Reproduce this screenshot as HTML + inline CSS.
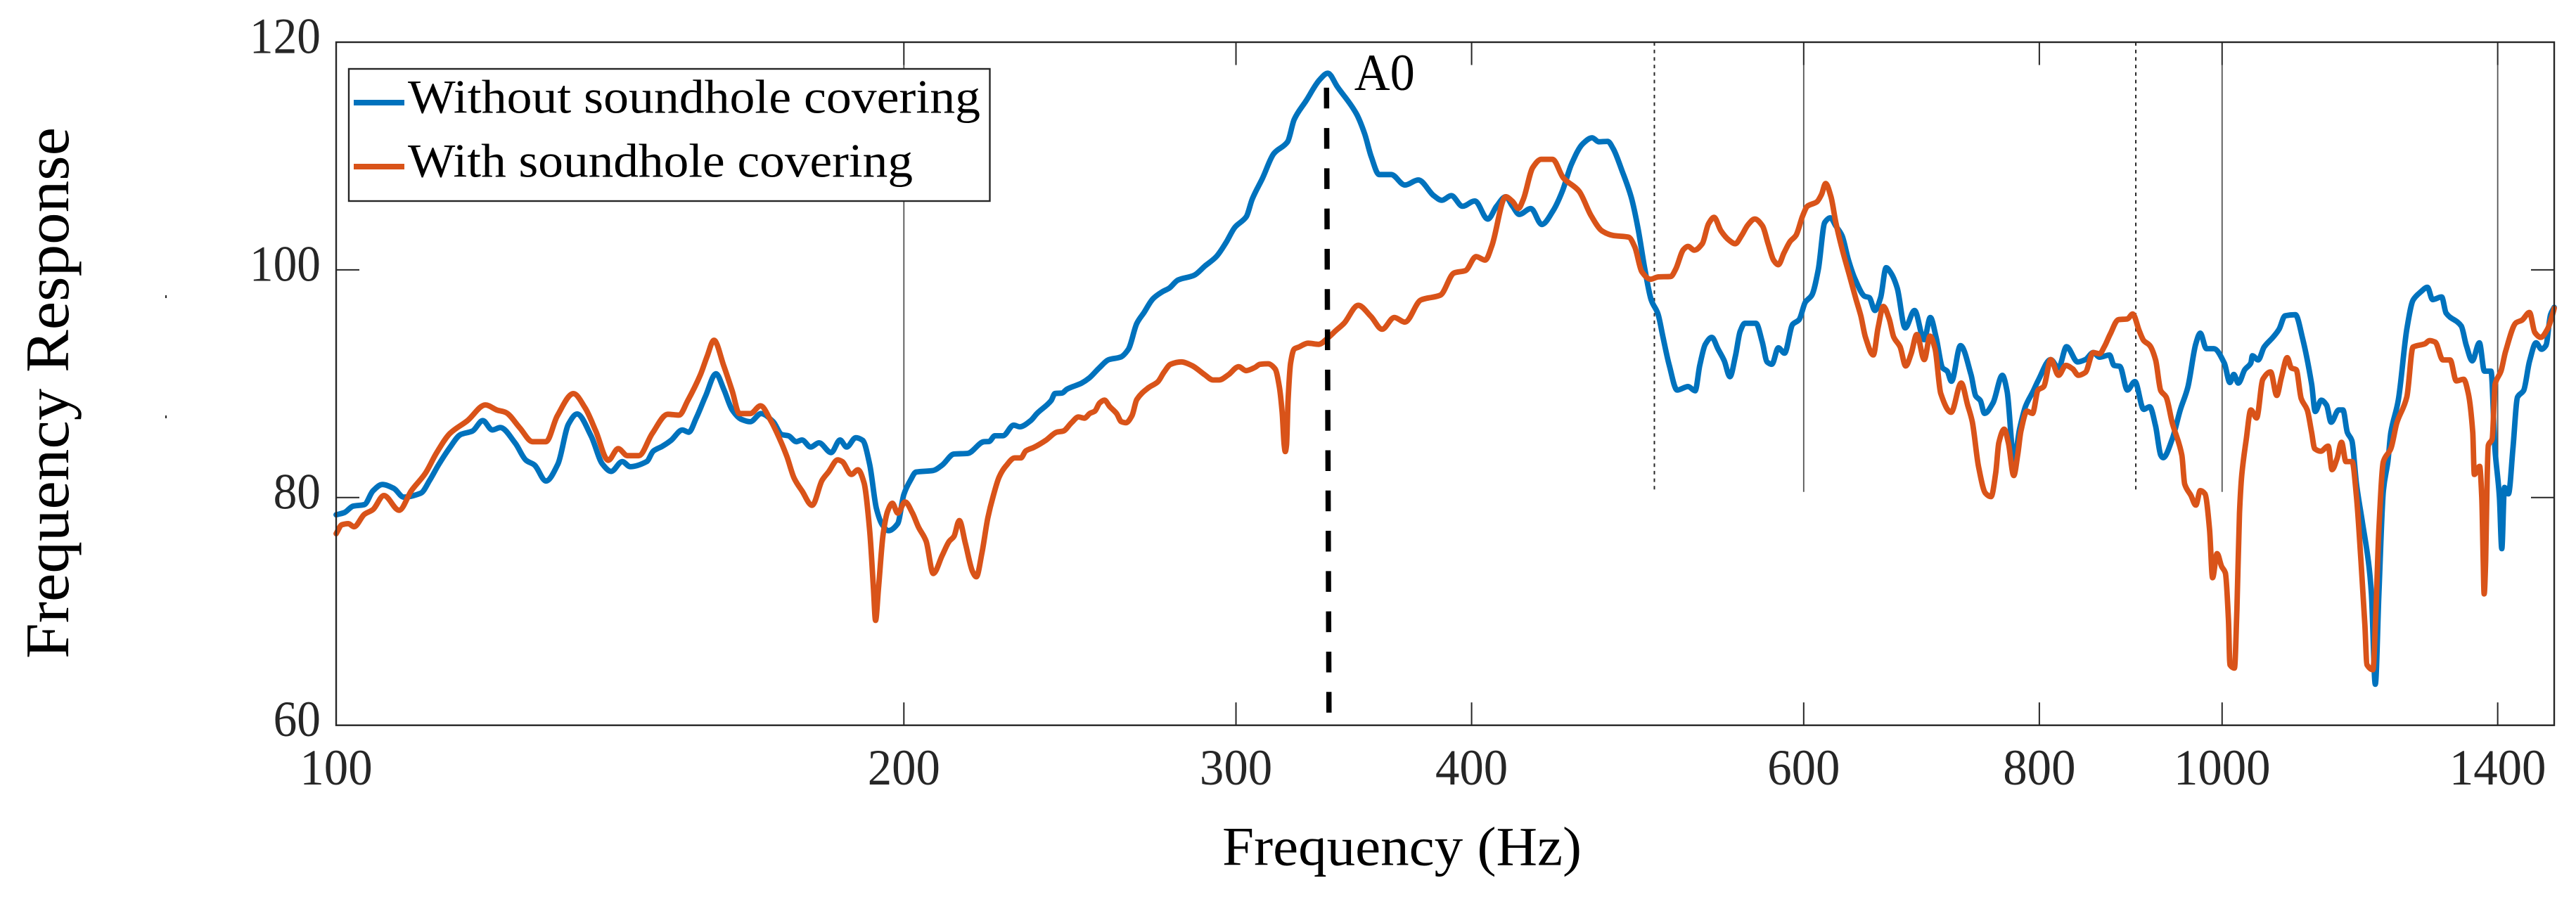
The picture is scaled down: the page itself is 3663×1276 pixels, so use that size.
<!DOCTYPE html>
<html lang="en">
<head>
<meta charset="utf-8">
<title>Frequency Response</title>
<style>
html,body{margin:0;padding:0;background:#fff;}
svg{display:block;}
text{font-family:"Liberation Serif",serif;}
</style>
</head>
<body>
<svg id="chart" xmlns="http://www.w3.org/2000/svg" width="3663" height="1276" viewBox="0 0 3663 1276">
  <rect x="0" y="0" width="3663" height="1276" fill="#ffffff"/>
  <rect x="235" y="420" width="2" height="4" fill="#222"/>
  <rect x="235" y="591" width="2" height="4" fill="#222"/>
  <g id="grid"></g>
  <g id="series"></g>
  <g id="ticks"></g>
  <rect x="478" y="60" width="3154" height="971.7" fill="none" stroke="#262626" stroke-width="2.4"/>
  <g id="annot"></g>
  <g>
    <rect x="496" y="98" width="911.5" height="188" fill="#ffffff" stroke="#262626" stroke-width="2.4"/>
    <line x1="503" y1="146" x2="575" y2="146" stroke="#0072BD" stroke-width="8"/>
    <text x="580" y="160.7" font-size="68" fill="#000" textLength="814" lengthAdjust="spacingAndGlyphs">Without soundhole covering</text>
    <line x1="503" y1="237" x2="575" y2="237" stroke="#D95319" stroke-width="8"/>
    <text x="580" y="251.7" font-size="68" fill="#000" textLength="718" lengthAdjust="spacingAndGlyphs">With soundhole covering</text>
  </g>
  <text x="1738" y="1230.7" font-size="78" fill="#000" textLength="511" lengthAdjust="spacingAndGlyphs">Frequency (Hz)</text>
  <text transform="translate(97,937) rotate(-90)" x="0" y="0" font-size="88" fill="#000" textLength="756" lengthAdjust="spacingAndGlyphs">Frequency Response</text>
</svg>
<script>
const xTickValues = [100, 200, 300, 400, 600, 800, 1000, 1400];
const yTickValues = [60, 80, 100, 120];
const stippleGridFreqs = [200, 600, 1000, 1400];
const dottedGridFreqs = [500, 900];
const a0Freq = 335.5;
const a0Top = 116;
const a0Bottom = 61.05;
const a0Label = "A0";

const freqWithout = [
100,101,102.1,103.5,104.6,105.8,107.3,108.6,110.9,112.1,
113.3,114.9,116.4,118.1,119.6,121,122.2,124.4,126.1,127.4,
129.2,131.1,132.8,134.2,136.5,138.4,139.9,141.8,143.2,146.1,
147.3,148.9,150.5,152.6,153.8,155.2,157,159,160.5,162.2,
164,165.8,168,170.5,172.3,173.7,175.4,176.6,178.5,180.3,
183,185,186.5,188.6,190.2,191.8,193.4,194.8,196.3,198.5,
200,201.6,203,207.3,209.6,212.6,216.2,220.6,221.9,223.5,
225.7,228.7,230.4,233.5,235.3,239.4,240.5,242.6,244,248.5,
250.7,253.9,256.9,260.5,263.1,265.8,268.1,271.1,274.3,276.5,
279.5,285,288.9,292.9,296.4,299.6,303.8,306,309.9,314.2,
319.5,322.1,326.8,332.3,335.6,339.5,347.5,351,353.9,357.3,
362.6,368.7,374.8,381.9,385.7,390.2,395.6,401.6,408,412.4,
417,420.5,424,430,435.8,441.8,446.9,451.9,458,463.4,
467.2,472.3,475.5,480.7,486,490,494,498.1,502.2,505.3,
509.2,514.1,521,525.5,528.5,532.1,536.3,540.4,544.5,548.3,
552,555.2,558.4,566,570.4,573.8,577.1,581.7,586.1,591.9,
596.6,601.2,606,610.8,615.6,619.8,624,628.7,633.7,638.7,
646.4,650,654.5,659.1,663.5,667.4,672.6,679.1,686.9,695,
700.3,705.3,710.8,715,718.6,726.6,736,740.2,744.4,748.2,
756,764.7,769.1,775.6,781,786.6,794,798.8,811.1,819,
827,838.3,846.3,854.5,861,871.6,876.3,882.7,890.8,899,
908.7,915.4,922,927.8,930.5,941,950.2,959,968.4,973.7,
981,990,1002.7,1009.6,1014.4,1020,1028.1,1035.7,1037.6,1045,
1052.6,1064,1072,1079.9,1093.6,1103.4,1115.5,1120.4,1128.7,1136,
1142.4,1153,1159,1165.3,1171.7,1178.3,1187,1195.6,1200,1205.7,
1211,1217.6,1224.3,1228.8,1240,1253,1262.5,1274,1285,1293,
1307.4,1314.6,1339,1347.4,1357.2,1369,1377.5,1388.7,1395.3,1403,
1407,1411.7,1418.5,1426.3,1434.4,1445,1455.4,1467.2,1477,1485,
1493.3,1500
];
const dbWithout = [
78.49,78.68,79.25,79.38,80.59,81.15,80.8,80.04,80.39,81.52,
82.86,84.4,85.53,85.84,86.76,85.94,86.15,84.81,83.27,82.86,
81.46,82.96,86.46,87.34,85.43,82.96,82.3,83.16,82.71,83.16,
84.09,84.5,85.02,85.94,85.74,86.97,88.93,90.88,89.54,87.69,
86.87,86.66,87.38,86.66,85.53,85.43,84.91,85.06,84.44,84.81,
83.95,85.06,84.44,85.26,85.02,82.96,79.05,77.61,77.09,77.71,
80.28,81.52,82.24,82.38,82.86,83.82,83.88,84.91,84.92,85.43,
85.43,86.36,86.22,86.77,87.39,88.52,89.14,89.18,89.51,90.06,
90.48,91.4,92.12,92.33,93.05,95.31,96.24,97.47,98.09,98.39,
99.11,99.52,100.35,101.17,102.41,103.74,104.67,106.21,108.06,110.22,
111.25,113.21,114.85,116.71,117.28,116.09,113.72,111.97,109.92,108.37,
108.37,107.45,107.9,106.52,106.11,106.52,105.59,106.05,104.46,105.59,
106.42,105.59,104.87,105.39,103.99,105.18,106.93,109.3,111.05,111.6,
111.25,111.29,110.64,108.68,106.42,103.74,100.25,97.36,96.13,94.07,
91.61,89.44,89.75,89.38,91.61,93.46,94.07,93.05,92.02,90.62,
92.43,94.59,95.31,95.31,93.66,91.91,91.71,93.15,92.68,95.21,
95.62,97.16,97.78,100.04,104.16,104.57,103.85,103.02,100.86,99.22,
97.68,97.57,96.44,97.57,100.19,99.73,98.4,94.9,96.44,93.87,
95.82,94.07,91.4,91.09,90.21,93.35,90.78,88.93,88.52,87.39,
88.31,90.74,89.34,83.37,86.05,88,89.34,90.27,92.12,91.4,
93.25,91.91,92.12,92.74,92.33,92.52,91.61,91.52,89.45,90.19,
87.75,87.98,86.28,83.73,83.5,85.15,87.7,89.68,93.51,94.44,
93.08,93.08,91.81,90.11,90.82,90.05,91.24,91.81,92.46,92.09,
93.22,94.07,94.78,95.97,96.06,93.93,89.96,87.56,88.55,88.12,
86.62,87.7,87.7,85.71,85,81.18,77.78,74.38,71.54,63.6,
71.54,80.61,83.16,85.71,88.55,94.78,97.33,98.04,98.47,97.39,
97.62,96.2,95.07,93.37,92.01,93.59,91.1,91.1,84.3,80.04,
75.51,80.89,80.33,84.3,88.83,89.4,91.95,93.59,93.03,93.37,
96.06,96.71
];

const freqWith = [
100,100.7,101.5,102.2,103.5,104.6,106,108,109.6,111.5,
113,114.9,117.4,120,121.7,123,125.1,127.1,129.2,131,
133.6,135.5,137.3,139.4,141.1,142.7,144.7,147.1,149.9,152,
153.6,156,157.3,158.6,160.5,162.2,163.6,165.8,167.9,170,
172,173.4,174.9,176.6,178.8,181,182.4,184.5,185.5,187.6,
189.1,190.5,191.8,192.7,193.2,193.9,195,196.1,197.2,198.5,
200.3,202.1,203.6,205.5,207.3,209.6,211.4,212.6,214,215.6,
217.5,218.5,220,221.6,223,224.7,226.5,229,230.7,232.1,
234.4,237.8,241,243,245.4,247.5,249.3,251,252.5,254,
255.5,257.1,259.3,260.8,262.3,264.2,265.8,269.6,272.7,274.7,
277,280.6,284.2,288.8,291.7,293.9,297.2,301,303.7,307.1,
308.9,312,314.7,316.3,317.4,318.2,318.6,319.1,319.7,320.7,
322.1,323.8,327.6,331.9,335.7,339,342.3,348.3,353.7,358.6,
364,368.7,376,385,391.5,397,402.2,406.7,410,417,
420.5,423.5,426.1,431,435.5,441.5,447.5,456,462.8,469,
475.5,484.5,488.2,492.4,497.6,502.4,510.1,513.1,518.1,521,
525,530.1,534.2,537.8,542.3,547.7,551.9,556.2,560.5,565.2,
570.6,574.5,578.3,581.7,585.7,590.2,594.3,599.3,602.8,609.7,
613.2,616.3,620.3,624,628.7,634.7,639.7,643.4,647,653.2,
657,661.3,665.9,669.8,674.9,679.6,684.1,688.8,695.2,700,
704.4,709.3,718.3,727.2,733,737.1,742.7,749,754.2,758.5,
761.4,766.4,770.3,775.4,779.2,782.2,788.1,793.3,798.8,804.3,
811.2,819,826.3,833.3,839,846.2,854.5,861,866.1,872,
881.1,890.8,896.6,903.8,908.7,915.4,922,927.8,934,941,
952,955.4,962.6,968.4,973.7,979.3,984.8,988.4,993.9,999.4,
1004,1007.8,1009.6,1015.2,1018.2,1021.5,1024.4,1030,1035.7,1043,
1051,1061,1069,1075,1082.8,1088.3,1094.7,1101.4,1109.5,1115.5,
1119.7,1127.9,1138.3,1143.7,1150.8,1157,1163.2,1172,1178.3,1184.8,
1190.5,1193.5,1202.2,1206.6,1211,1217.6,1228.8,1237.8,1253,1262.5,
1281,1288,1297.3,1309.4,1321,1331,1343,1350.8,1358,1360.6,
1369.5,1373,1375.5,1377,1379.5,1382,1384,1390.6,1395.6,1405.6,
1413.4,1431.6,1442,1455.4,1465,1475.6,1487.6,1498.5,1500
];
const dbWith = [
76.83,77.61,77.71,77.44,78.53,78.95,80.18,78.88,80.59,82.13,
83.88,85.63,86.76,88.14,87.69,87.48,86.15,84.91,84.91,87.18,
89.13,87.9,85.84,83.27,84.3,83.68,83.68,85.63,87.32,87.24,
88.51,90.78,92.42,93.82,91.6,89.34,87.38,87.38,88.06,86.76,
85.02,83.58,81.72,80.59,79.32,81.52,82.24,83.31,83.16,82.03,
82.44,81.31,77.2,72.05,69.21,72.05,76.79,78.84,79.5,78.64,
79.62,78.64,77.4,76.17,73.33,74.93,76.17,76.58,77.98,75.96,
73.49,73.04,75.14,78.23,80.08,81.83,82.76,83.48,83.48,84.1,
84.41,85.02,85.74,85.85,86.57,87.08,86.98,87.39,87.59,88.31,
88.56,88.01,87.39,86.67,86.57,87.18,88.62,89.65,90.17,90.99,
91.71,91.92,91.61,90.78,90.33,90.33,90.78,91.5,91.15,91.44,
91.71,91.75,91.3,89.76,87.49,84.61,84.04,84.61,88.52,91.81,
93.05,93.21,93.56,93.46,94.04,94.69,95.31,96.89,95.92,94.79,
95.82,95.41,97.36,97.78,99.73,99.94,101.17,100.86,102.1,106.42,
106.01,105.39,106.21,108.99,109.71,109.71,108.06,106.93,104.77,103.43,
103.02,102.88,102,99.84,99.18,99.38,99.42,100.04,101.79,102.06,
101.73,102.3,104.05,104.61,103.44,102.61,102.3,103.02,103.95,104.47,
103.85,102.3,100.86,100.45,101.48,102.51,103.02,104.77,105.6,105.97,
106.63,107.59,106.42,104.16,101.89,99.42,97.37,95.93,94.07,92.53,
94.9,96.79,95.72,94.07,93.25,91.56,92.63,94.32,92.12,94.18,
93.05,89.14,87.49,90.06,88.11,86.67,82.76,80.39,80.08,82.14,
84.82,86.01,84.82,81.93,83.79,85.84,87.59,87.39,89.44,89.75,
92.12,90.74,91.61,91.3,90.74,90.99,92.74,92.63,93.25,94.3,
95.63,95.69,96.12,94.64,93.79,93.37,92.09,89.4,88.83,86.56,
83.73,81.18,80.19,79.34,80.61,80.33,77.21,72.96,75.08,73.95,
73.38,69.27,65.31,65.02,70.12,78.63,82.03,85.15,87.7,86.99,
90.39,91.04,88.97,90.53,92.29,91.38,91.24,88.69,87.7,85.71,
84.3,84.07,84.52,82.45,83.45,84.86,83.16,83.16,80.04,74.38,
68.71,65.31,64.88,70.12,77.21,83.16,84.3,86.56,88.83,93.22,
93.51,93.79,93.65,92.09,92.09,90.25,90.39,89.11,85.71,82.03,
82.74,80.04,74.38,71.54,74.38,81.46,84.58,85.15,89.96,91.1,
92.8,95.35,95.58,96.26,94.5,94.07,94.78,96.34,96.63
];

const NS = "http://www.w3.org/2000/svg";
const plot = { left: 478, right: 3632, top: 60, bottom: 1031.7 };
const xDomain = [100, 1500];
const yDomain = [60, 120];

function xScale(f) {
  const a = Math.log10(xDomain[0]), b = Math.log10(xDomain[1]);
  return plot.left + (Math.log10(f) - a) / (b - a) * (plot.right - plot.left);
}
function yScale(v) {
  return plot.bottom - (v - yDomain[0]) / (yDomain[1] - yDomain[0]) * (plot.bottom - plot.top);
}
function make(tag, props, parent) {
  const el = document.createElementNS(NS, tag);
  for (const k in props) el.setAttribute(k, props[k]);
  parent.appendChild(el);
  return el;
}

const gridG = document.getElementById("grid");
const ticksG = document.getElementById("ticks");
const seriesG = document.getElementById("series");
const annotG = document.getElementById("annot");
const gridEndDb = 80.5;
const tickLen = 32.5;

stippleGridFreqs.forEach(function (f) {
  const ln = make("line", { x1: xScale(f), x2: xScale(f), y1: plot.top + tickLen, y2: yScale(gridEndDb), stroke: "#555", "stroke-width": 1.8 }, gridG);
  
  
});
dottedGridFreqs.forEach(function (f) {
  const ln = make("line", { x1: xScale(f), x2: xScale(f), y1: plot.top, y2: yScale(gridEndDb), stroke: "#262626", "stroke-width": 2, "stroke-dasharray": "5 5.7" }, gridG);
  
  
});

xTickValues.forEach(function (f) {
  const x = xScale(f);
  if (f !== xDomain[0]) {
    const top = make("line", { x1: x, x2: x, y1: plot.top, y2: plot.top + tickLen, stroke: "#262626", "stroke-width": 2 }, ticksG);
    
    
    const bottom = make("line", { x1: x, x2: x, y1: plot.bottom - tickLen, y2: plot.bottom, stroke: "#262626", "stroke-width": 2 }, ticksG);
    
    
  }
  const s = String(f);
  const t = make("text", { x: x, y: 1116, "font-size": 72, fill: "#262626", "text-anchor": "middle", textLength: s.length * 34.4, lengthAdjust: "spacingAndGlyphs" }, ticksG);
  t.textContent = s;
  
  
});

yTickValues.forEach(function (v) {
  const y = yScale(v);
  if (v !== yDomain[0] && v !== yDomain[1]) {
    const l = make("line", { x1: plot.left, x2: plot.left + 33, y1: y, y2: y, stroke: "#262626", "stroke-width": 2 }, ticksG);
    
    
    const r = make("line", { x1: plot.right - 33, x2: plot.right, y1: y, y2: y, stroke: "#262626", "stroke-width": 2 }, ticksG);
    
    
  }
  const s = String(v);
  const t = make("text", { x: 456, y: y + 15.5, "font-size": 72, fill: "#262626", "text-anchor": "end", textLength: s.length * 33.7, lengthAdjust: "spacingAndGlyphs" }, ticksG);
  t.textContent = s;
  
  
});

function smoothPath(freqs, values) {
  const xs = freqs.map(xScale);
  const ys = values.map(yScale);
  const n = xs.length;
  const sec = [];
  for (let i = 0; i < n - 1; i++) sec.push((ys[i + 1] - ys[i]) / (xs[i + 1] - xs[i]));
  const slope = [sec[0]];
  for (let i = 1; i < n - 1; i++) {
    const a = sec[i - 1], b = sec[i];
    slope.push(a * b <= 0 ? 0 : 2 * a * b / (a + b));
  }
  slope.push(sec[n - 2]);
  let d = "M" + xs[0].toFixed(1) + " " + ys[0].toFixed(1);
  for (let i = 0; i < n - 1; i++) {
    const h = (xs[i + 1] - xs[i]) / 3;
    d += " C" + (xs[i] + h).toFixed(1) + " " + (ys[i] + slope[i] * h).toFixed(1) +
         " " + (xs[i + 1] - h).toFixed(1) + " " + (ys[i + 1] - slope[i + 1] * h).toFixed(1) +
         " " + xs[i + 1].toFixed(1) + " " + ys[i + 1].toFixed(1);
  }
  return d;
}
const lineWithout = make("path", { d: smoothPath(freqWithout, dbWithout), fill: "none", stroke: "#0072BD", "stroke-width": 7.8, "stroke-linejoin": "round", "stroke-linecap": "round" }, seriesG);


const lineWith = make("path", { d: smoothPath(freqWith, dbWith), fill: "none", stroke: "#D95319", "stroke-width": 7.8, "stroke-linejoin": "round", "stroke-linecap": "round" }, seriesG);



const a0Line = make("line", { x1: xScale(a0Freq) - 1.5, x2: xScale(a0Freq) + 2, y1: yScale(a0Top), y2: yScale(a0Bottom), stroke: "#000", "stroke-width": 7.5, "stroke-dasharray": "29.5 27.8" }, annotG);


const a0Text = make("text", { x: xScale(a0Freq) + 38, y: 128, "font-size": 74, fill: "#000", textLength: 86, lengthAdjust: "spacingAndGlyphs" }, annotG);
a0Text.textContent = a0Label;


</script>
</body>
</html>
